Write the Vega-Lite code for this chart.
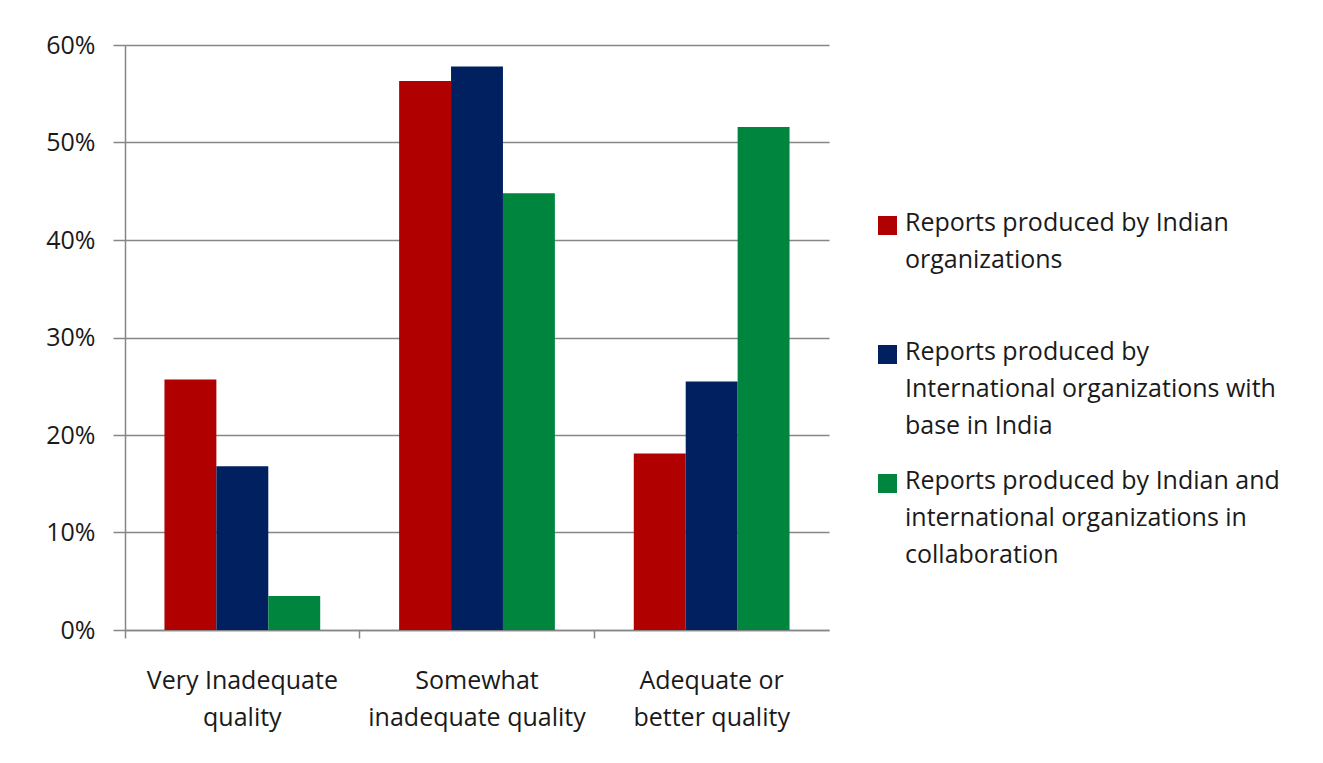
{
  "$schema": "https://vega.github.io/schema/vega-lite/v6.json",
  "autosize": "none",
  "width": 704,
  "height": 585,
  "padding": {"left": 125, "top": 45, "right": 494, "bottom": 133},
  "background": "white",
  "config": {
    "view": {"stroke": null},
    "font": "Open Sans",
    "axis": {"labelFont": "Open Sans", "labelColor": "#1a1a1a", "labelFontSize": 25, "labelLimit": 400, "domainColor": "#868686", "tickColor": "#868686", "gridColor": "#868686", "domainWidth": 1.5, "tickWidth": 1.5, "gridWidth": 1.5}
  },
  "data": {
    "values": [
      {"quality": "Very Inadequate quality", "series": "Reports produced by Indian organizations", "value": 0.257},
      {"quality": "Very Inadequate quality", "series": "Reports produced by International organizations with base in India", "value": 0.168},
      {"quality": "Very Inadequate quality", "series": "Reports produced by Indian and international organizations in collaboration", "value": 0.035},
      {"quality": "Somewhat inadequate quality", "series": "Reports produced by Indian organizations", "value": 0.563},
      {"quality": "Somewhat inadequate quality", "series": "Reports produced by International organizations with base in India", "value": 0.578},
      {"quality": "Somewhat inadequate quality", "series": "Reports produced by Indian and international organizations in collaboration", "value": 0.448},
      {"quality": "Adequate or better quality", "series": "Reports produced by Indian organizations", "value": 0.181},
      {"quality": "Adequate or better quality", "series": "Reports produced by International organizations with base in India", "value": 0.255},
      {"quality": "Adequate or better quality", "series": "Reports produced by Indian and international organizations in collaboration", "value": 0.516}
    ]
  },
  "mark": {"type": "bar"},
  "encoding": {
    "x": {
      "field": "quality",
      "type": "nominal",
      "sort": ["Very Inadequate quality", "Somewhat inadequate quality", "Adequate or better quality"],
      "scale": {"paddingInner": 0, "paddingOuter": 0},
      "axis": {
        "title": null,
        "labelAngle": 0,
        "bandPosition": 0,
        "tickSize": 8,
        "labelPadding": 30,
        "labelLineHeight": 37,
        "labelExpr": "datum.label == 'Very Inadequate quality' ? ['Very Inadequate', 'quality'] : datum.label == 'Somewhat inadequate quality' ? ['Somewhat', 'inadequate quality'] : ['Adequate or', 'better quality']"
      }
    },
    "xOffset": {
      "field": "series",
      "type": "nominal",
      "sort": ["Reports produced by Indian organizations", "Reports produced by International organizations with base in India", "Reports produced by Indian and international organizations in collaboration"],
      "scale": {"paddingInner": 0, "paddingOuter": 0.76}
    },
    "y": {
      "field": "value",
      "type": "quantitative",
      "scale": {"domain": [0, 0.6], "nice": false},
      "axis": {"title": null, "format": ".0%", "values": [0, 0.1, 0.2, 0.3, 0.4, 0.5, 0.6], "labelOverlap": false, "tickSize": 12, "labelPadding": 18, "grid": true}
    },
    "color": {
      "field": "series",
      "type": "nominal",
      "sort": ["Reports produced by Indian organizations", "Reports produced by International organizations with base in India", "Reports produced by Indian and international organizations in collaboration"],
      "scale": {"range": ["#b00000", "#002060", "#00853e"]},
      "legend": {
        "title": null,
        "orient": "none",
        "legendX": 750,
        "legendY": 168,
        "symbolType": "square",
        "symbolSize": 361,
        "symbolStrokeWidth": 0,
        "labelFont": "Open Sans",
        "labelFontSize": 25,
        "labelColor": "#1a1a1a",
        "labelOffset": 5,
        "labelLimit": 500,
        "rowPadding": 29,
        "labelExpr": "datum.label == 'Reports produced by Indian organizations' ? ['Reports produced by Indian', 'organizations', ''] : datum.label == 'Reports produced by International organizations with base in India' ? ['Reports produced by', 'International organizations with', 'base in India'] : ['Reports produced by Indian and', 'international organizations in', 'collaboration']",
        "labelBaseline": "top",
        "encode": {"labels": {"update": {"lineHeight": {"value": 37}, "dy": {"value": -15}}}}
      }
    }
  }
}
